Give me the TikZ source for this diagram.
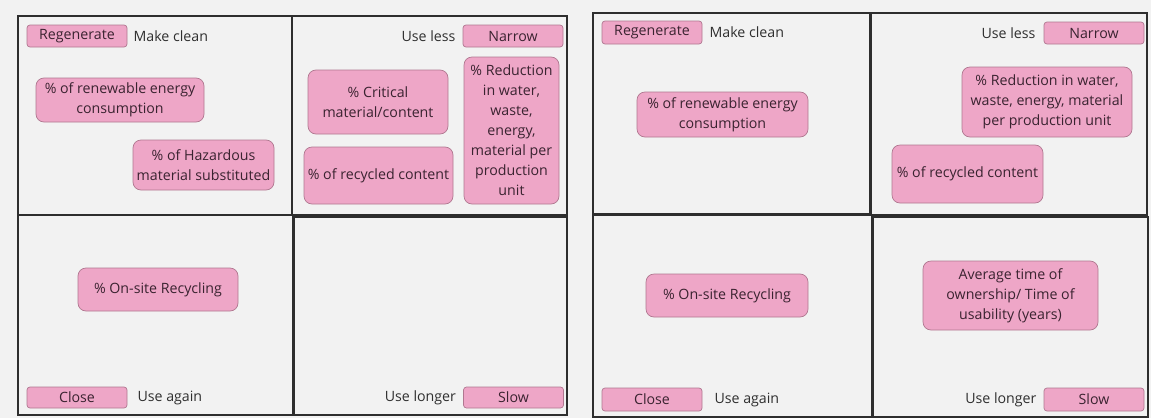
\documentclass[tikz,border=0pt]{standalone}
\usepackage{fontspec}
\setmainfont{Open Sans}
\usepackage{tikz}
\usetikzlibrary{positioning}

\definecolor{bgfill}{HTML}{F2F2F2}
\definecolor{quadline}{HTML}{2E2E2E}
\definecolor{pinkfill}{HTML}{EEA6C7}
\definecolor{pinkline}{HTML}{B07790}
\definecolor{boxtext}{HTML}{3A2330}
\definecolor{lbltext}{HTML}{2F2F2F}

\newcommand{\boxfont}{\fontsize{14.2}{20}\selectfont}

\tikzset{
  quad/.style={draw=quadline, line width=1.4pt},
  metric/.style={draw=pinkline, fill=pinkfill, line width=0.7pt, rounded corners=8pt, align=center, text=boxtext, font=\boxfont, inner sep=2pt},
  tagbox/.style={draw=pinkline, fill=pinkfill, line width=0.7pt, rounded corners=3pt, minimum width=100pt, minimum height=22pt, text=boxtext, font=\boxfont, inner sep=0pt},
  lbl/.style={text=lbltext, font=\boxfont, inner sep=0pt}
}

\begin{document}
\begin{tikzpicture}[x=1pt, y=-1pt]
\useasboundingbox[fill=bgfill] (0,0) rectangle (1151,418);

% left panel
\draw[quad] (18,16) rectangle (292,215);
\draw[quad] (292,16) rectangle (567,215);
\draw[quad] (18,215) rectangle (293,415);
\draw[quad] (294,217) rectangle (567,415);

\node[tagbox] (regen1) at (77,36) {Regenerate};
\node[lbl, right=6pt of regen1] (clean1) {Make clean};
\node[tagbox] (narrow1) at (513,36) {Narrow};
\node[lbl, left=7pt of narrow1] (less1) {Use less};
\node[tagbox, minimum height=21pt] (close1) at (77,397.5) {Close};
\node[lbl, right=10pt of close1] (again1) {Use again};
\node[tagbox, minimum height=21pt] (slow1) at (513.5,397.5) {Slow};
\node[lbl, left=7pt of slow1] (longer1) {Use longer};

\node[metric, minimum width=168pt, minimum height=44pt] (renew1) at (120,100) {\% of renewable energy\\consumption};
\node[metric, minimum width=141pt, minimum height=50pt] (haz1) at (203.5,165) {\% of Hazardous\\material substituted};
\node[metric, minimum width=140pt, minimum height=64pt] (crit1) at (378,102) {\% Critical\\material/content};
\node[metric, minimum width=149pt, minimum height=57pt] (recyc1) at (378.5,175.5) {\% of recycled content};
\node[metric, minimum width=95pt, minimum height=147pt] (reduc1) at (511.5,130.5) {\% Reduction\\in water,\\waste,\\energy,\\material per\\production\\unit};
\node[metric, minimum width=160pt, minimum height=43pt] (onsite1) at (158,289.5) {\% On-site Recycling};

% right panel
\draw[quad] (593,13) rectangle (870,214);
\draw[quad] (871,13) rectangle (1147,215);
\draw[quad] (593,215) rectangle (872,417);
\draw[quad] (873,217) rectangle (1148,417);

\node[tagbox, minimum height=23pt] (regen2) at (652,32.5) {Regenerate};
\node[lbl, right=7pt of regen2] (clean2) {Make clean};
\node[tagbox] (narrow2) at (1094,33) {Narrow};
\node[lbl, left=8pt of narrow2] (less2) {Use less};
\node[tagbox, minimum height=23pt] (close2) at (652,399.5) {Close};
\node[lbl, right=12pt of close2] (again2) {Use again};
\node[tagbox, minimum height=23pt] (slow2) at (1094,399.5) {Slow};
\node[lbl, left=7pt of slow2] (longer2) {Use longer};

\node[metric, minimum width=171pt, minimum height=45pt] (renew2) at (722.5,114.5) {\% of renewable energy\\consumption};
\node[metric, minimum width=170pt, minimum height=70pt] (reduc2) at (1047,102) {\% Reduction in water,\\waste, energy, material\\per production unit};
\node[metric, minimum width=151pt, minimum height=58pt] (recyc2) at (967.5,174) {\% of recycled content};
\node[metric, minimum width=162pt, minimum height=43pt] (onsite2) at (727,295.5) {\% On-site Recycling};
\node[metric, minimum width=175pt, minimum height=69pt] (avg2) at (1010.5,295.5) {Average time of\\ownership/ Time of\\usability (years)};
\end{tikzpicture}
\end{document}
